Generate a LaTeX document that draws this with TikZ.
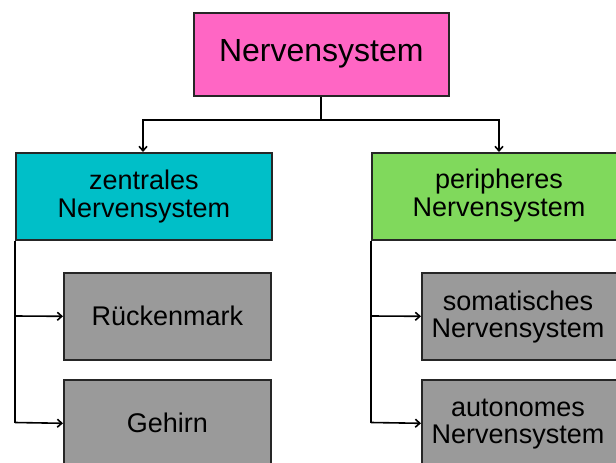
\documentclass[tikz,border=0pt]{standalone}
\usepackage{fontspec}
\setmainfont{Liberation Sans}
\usetikzlibrary{arrows.meta}
\definecolor{cpink}{HTML}{FF66C4}
\definecolor{cteal}{HTML}{00BFC8}
\definecolor{cgreen}{HTML}{80D95C}
\definecolor{cgray}{HTML}{9A9A9A}
\begin{document}
\begin{tikzpicture}[x=1pt,y=-1pt,
  box/.style={draw=black!85, line width=1.6pt, inner sep=0pt, anchor=north west},
  lbl/.style={align=center, font=\fontsize{27}{27.5}\selectfont, inner sep=0pt},
  conn/.style={line width=1.6pt, -{Straight Barb[length=4.5pt,width=8pt,line width=1.6pt]}},
  plain/.style={line width=1.6pt}]
\useasboundingbox (0,0) rectangle (616,463);
\clip (0,0) rectangle (616,463);
\fill[white] (0,0) rectangle (616,463);
% boxes
\node[box, fill=cpink, minimum width=255pt, minimum height=83pt] (ns) at (193,12) {};
\node[font=\fontsize{32}{34}\selectfont, inner sep=0pt] (nst) at (ns.center) {Nervensystem};
\node[box, fill=cteal, minimum width=256pt, minimum height=87pt] (zns) at (15,152) {};
\node[lbl] (znst) at (zns.center) {zentrales\\Nervensystem};
\node[box, fill=cgreen, minimum width=290pt, minimum height=87pt] (pns) at (371,152) {};
\node[lbl] (pnst) at (499,195.5) {peripheres\\Nervensystem};
\node[box, fill=cgray, minimum width=207pt, minimum height=87pt] (rm) at (63,272) {};
\node[lbl] (rmt) at (rm.center) {Rückenmark};
\node[box, fill=cgray, minimum width=207pt, minimum height=87pt] (gh) at (63,379) {};
\node[lbl] (ght) at (gh.center) {Gehirn};
\node[box, fill=cgray, minimum width=240pt, minimum height=87pt] (som) at (421,272) {};
\node[lbl] (somt) at (518,317) {somatisches\\Nervensystem};
\node[box, fill=cgray, minimum width=240pt, minimum height=87pt] (aut) at (421,379) {};
\node[lbl] (autt) at (518,424) {autonomes\\Nervensystem};
% connectors
\coordinate (j) at (321,120);
\draw[plain] (ns.south -| j) -- (j);
\draw[conn] (j) -| (143,152);
\draw[conn] (j) -| (499,152);
\draw[plain] (zns.south west) -- (15,423);
\draw[conn] (15,316) -- (rm.west);
\draw[conn] (15,422.5) -- (gh.west);
\draw[plain] (pns.south west) -- (371,422.5);
\draw[conn] (371,316) -- (som.west);
\draw[conn] (371,422.5) -- (aut.west);
\end{tikzpicture}
\end{document}
